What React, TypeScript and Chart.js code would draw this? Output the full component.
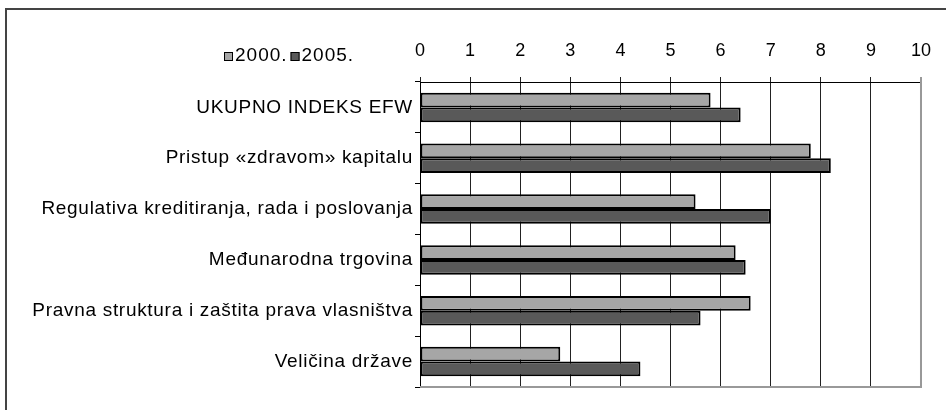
import React, { useEffect, useRef } from "react";
import { Chart, registerables } from "chart.js";

Chart.register(...registerables);

const categories = [
  "UKUPNO INDEKS EFW",
  "Pristup «zdravom» kapitalu",
  "Regulativa kreditiranja, rada i poslovanja",
  "Međunarodna trgovina",
  "Pravna struktura i zaštita prava vlasništva",
  "Veličina države",
];
const seriesNames = ["2000.", "2005."];
const values2000 = [5.8, 7.8, 5.5, 6.3, 6.6, 2.8];
const values2005 = [6.4, 8.2, 7.0, 6.5, 5.6, 4.4];
const xTicks = [0, 1, 2, 3, 4, 5, 6, 7, 8, 9, 10];

const FONT = "'Liberation Sans', Arial, sans-serif";

const framePlugin = {
  id: "frame",
  beforeDraw(chart: any) {
    const { ctx, width, height } = chart;
    ctx.letterSpacing = "0px";
    ctx.save();
    ctx.fillStyle = "#fff";
    ctx.fillRect(0, 0, width, height);
    ctx.strokeStyle = "#444";
    ctx.lineWidth = 2;
    ctx.beginPath();
    ctx.moveTo(6, height);
    ctx.lineTo(6, 9);
    ctx.lineTo(width, 9);
    ctx.stroke();
    ctx.restore();
  },
  afterDatasetsDraw(chart: any) {
    chart.ctx.letterSpacing = "0.7px";
  },
  afterDraw(chart: any) {
    const { ctx, chartArea } = chart;
    ctx.letterSpacing = "0px";
    ctx.save();
    ctx.strokeStyle = "#999";
    ctx.lineWidth = 2;
    ctx.beginPath();
    ctx.moveTo(chartArea.left, chartArea.bottom);
    ctx.lineTo(chartArea.right, chartArea.bottom);
    ctx.lineTo(chartArea.right, chartArea.top);
    ctx.stroke();
    // legend
    ctx.letterSpacing = "1px";
    ctx.font = `19px ${FONT}`;
    ctx.textBaseline = "middle";
    ctx.textAlign = "left";
    let x = 224;
    const y = 56;
    chart.data.datasets.forEach((ds: any) => {
      ctx.fillStyle = ds.backgroundColor;
      ctx.fillRect(x, y - 4, 9, 9);
      ctx.strokeStyle = "#000";
      ctx.lineWidth = 1;
      ctx.strokeRect(x + 0.5, y - 3.5, 8, 8);
      ctx.fillStyle = "#000";
      ctx.fillText(ds.label, x + 11, y);
      x += 11 + ctx.measureText(ds.label).width + 3;
    });
    ctx.letterSpacing = "0px";
    ctx.restore();
  },
};

export default function App() {
  const ref = useRef<HTMLCanvasElement>(null);
  useEffect(() => {
    const chart = new Chart(ref.current!, {
      type: "bar",
      data: {
        labels: categories,
        datasets: [
          {
            label: seriesNames[0],
            data: values2000,
            backgroundColor: "#a6a6a6",
            borderColor: "#000",
            borderWidth: 2,
            borderSkipped: false,
          },
          {
            label: seriesNames[1],
            data: values2005,
            backgroundColor: "#595959",
            borderColor: "#000",
            borderWidth: 2,
            borderSkipped: false,
          },
        ],
      },
      options: {
        indexAxis: "y",
        responsive: false,
        animation: false,
        events: [],
        layout: { padding: { left: 0, top: 0, right: 23, bottom: 23 } },
        datasets: { bar: { categoryPercentage: 0.58, barPercentage: 1 } },
        plugins: { legend: { display: false }, tooltip: { enabled: false } },
        scales: {
          x: {
            position: "top",
            min: 0,
            max: 10,
            afterBuildTicks: (s: any) => {
              s.ticks = xTicks.map((v) => ({ value: v }));
            },
            afterFit: (s: any) => {
              s.height = 82;
            },
            ticks: {
              color: "#000",
              font: { family: FONT, size: 18 },
              padding: 15,
              maxRotation: 0,
            },
            grid: {
              color: (c: any) => (c.tick && c.tick.value === 10 ? "#999" : "#222"),
              lineWidth: (c: any) => (c.tick && c.tick.value === 10 ? 2 : 1),
              tickLength: 5,
            },
            border: { color: "#000", width: 1 },
          },
          y: {
            afterFit: (s: any) => {
              s.width = 420;
            },
            ticks: {
              color: "#000",
              font: { family: FONT, size: 19 },
              padding: 2,
              z: 1,
            },
            grid: {
              drawOnChartArea: false,
              offset: true,
              tickLength: 5,
              color: "#000",
            },
            border: { color: "#000", width: 1 },
          },
        },
      },
      plugins: [framePlugin],
    } as any);
    return () => chart.destroy();
  }, []);
  return (
    <div style={{ position: "fixed", left: 0, top: 0, width: 946, height: 410, background: "#fff" }}>
      <canvas ref={ref} width={946} height={410} style={{ width: 946, height: 410, display: "block" }} />
    </div>
  );
}
